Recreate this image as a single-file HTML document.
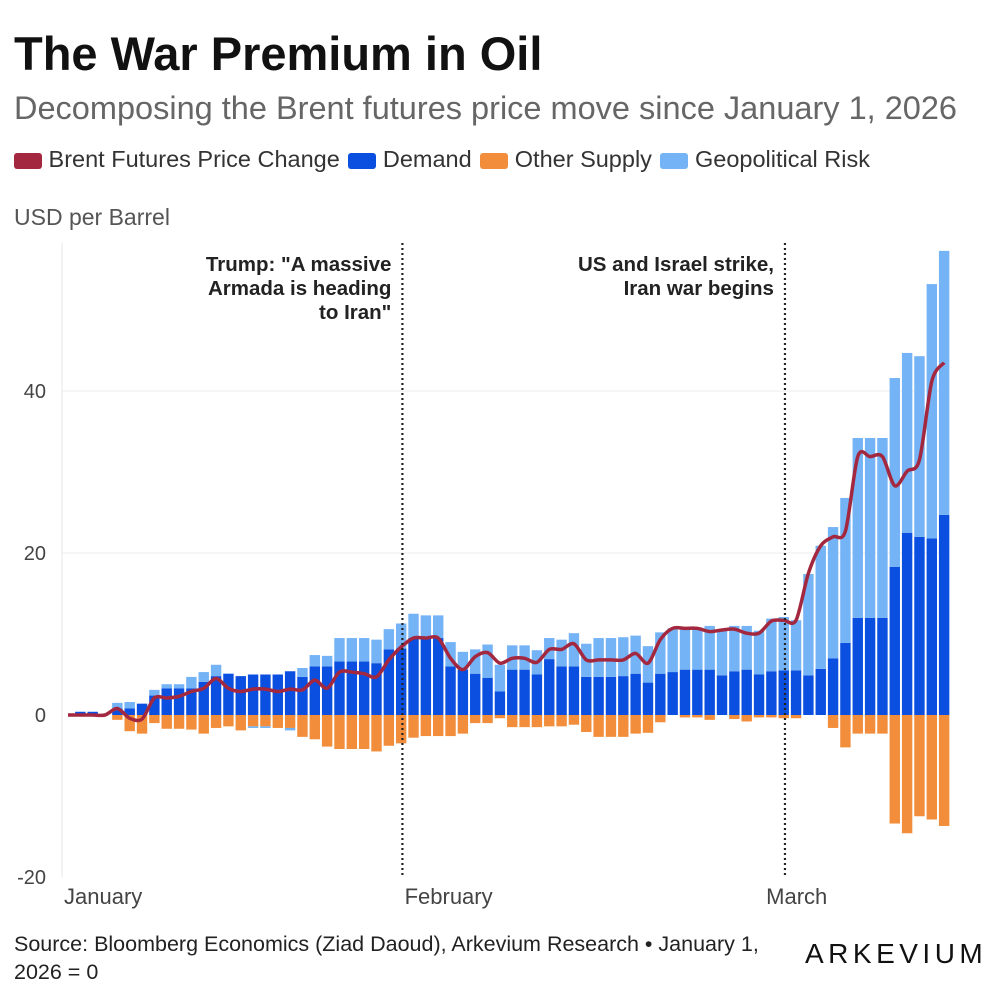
<!DOCTYPE html>
<html><head><meta charset="utf-8"><style>
body{margin:0;background:#fff;font-family:"Liberation Sans",sans-serif;}
#wrap{position:relative;width:1000px;height:1000px;overflow:hidden;}
.t{position:absolute;white-space:nowrap;}
</style></head><body>
<div id="wrap">
<div class="t" style="left:14px;top:26px;font-size:47px;font-weight:bold;color:#111;">The War Premium in Oil</div>
<div class="t" style="left:14px;top:90px;font-size:32.5px;color:#666;">Decomposing the Brent futures price move since January 1, 2026</div>
<div class="t" style="left:14px;top:146px;font-size:23.5px;color:#333;">
<span><span style="display:inline-block;width:28px;height:16px;background:#a3283f;border-radius:3px;vertical-align:-2px"></span> Brent Futures Price Change</span>
<span style="margin-left:2px"><span style="display:inline-block;width:28px;height:16px;background:#0a4fe0;border-radius:3px;vertical-align:-2px"></span> Demand</span>
<span style="margin-left:2px"><span style="display:inline-block;width:28px;height:16px;background:#f28e3b;border-radius:3px;vertical-align:-2px"></span> Other Supply</span>
<span style="margin-left:2px"><span style="display:inline-block;width:28px;height:16px;background:#74b3f5;border-radius:3px;vertical-align:-2px"></span> Geopolitical Risk</span>
</div>
<div class="t" style="left:14px;top:204px;font-size:23px;color:#555;">USD per Barrel</div>
<svg id="chart" width="1000" height="1000" style="position:absolute;left:0;top:0" xmlns="http://www.w3.org/2000/svg"></svg>
<div class="t" style="left:14px;top:930px;font-size:21.5px;color:#222;line-height:28px;">Source: Bloomberg Economics (Ziad Daoud), Arkevium Research • January 1,<br>2026 = 0</div>
<div class="t" style="left:805px;top:938px;font-size:28px;letter-spacing:4.5px;color:#111;">ARKEVIUM</div>
</div>
<script>
const demand=[0,0.4,0.4,0,0.8,0.8,1.4,2.4,3.3,3.3,3.3,4.1,4.8,5.1,4.8,5.0,5.0,5.0,5.4,4.7,6.0,6.0,6.6,6.6,6.6,6.4,8.1,8.2,9.5,9.5,9.5,6.0,5.6,5.1,4.6,2.9,5.6,5.6,5.0,6.9,6.0,6.0,4.7,4.7,4.7,4.8,5.1,4.0,5.1,5.3,5.6,5.6,5.6,4.9,5.4,5.6,5.0,5.4,5.5,5.5,4.9,5.7,7.0,8.9,12.0,12.0,12.0,18.3,22.5,22.0,21.8,24.7];
const supply=[0,0,0,0,-0.6,-2.0,-2.3,-1.0,-1.7,-1.7,-1.8,-2.3,-1.6,-1.4,-1.9,-1.4,-1.4,-1.6,-1.6,-2.7,-3.0,-3.9,-4.2,-4.2,-4.2,-4.5,-3.8,-3.5,-2.8,-2.6,-2.6,-2.6,-2.3,-1.0,-1.0,-0.4,-1.5,-1.5,-1.5,-1.4,-1.4,-1.2,-2.1,-2.7,-2.7,-2.7,-2.3,-2.2,-0.9,0,-0.3,-0.3,-0.6,0,-0.5,-0.8,-0.3,-0.3,-0.4,-0.4,0,0,-1.6,-4.0,-2.3,-2.3,-2.3,-13.4,-14.6,-12.5,-12.9,-13.7];
const geo=[0,0,0,0,0.7,0.8,0,0.7,0.5,0.5,1.4,1.2,1.4,0,0,-0.2,-0.2,0,-0.3,1.1,1.4,1.3,2.9,2.9,2.9,2.9,2.5,3.1,3.0,2.8,2.8,3.0,2.2,3.0,4.1,3.3,3.0,3.0,3.0,2.6,3.3,4.1,4.1,4.8,4.8,4.8,4.7,4.5,5.1,5.4,5.2,5.2,5.4,5.6,5.6,5.4,5.4,6.5,6.6,6.2,12.5,15.2,16.2,17.9,22.2,22.2,22.2,23.3,22.2,22.3,31.4,32.6];
const price=[0,0,0,0,0.8,-0.4,-0.5,2.1,2.1,2.3,2.9,3.3,4.5,3.3,2.9,3.2,3.2,2.9,3.2,3.1,4.3,3.3,5.3,5.3,5.1,4.7,6.8,8.4,9.5,9.5,9.5,7.0,5.6,7.2,7.7,6.4,7.0,7.0,6.5,8.1,8.1,8.8,6.8,6.8,6.8,6.8,7.6,6.4,9.3,10.7,10.7,10.7,10.3,10.5,10.6,10.1,10.1,11.6,11.7,11.7,17.5,20.9,22.0,22.7,31.9,31.9,31.9,28.3,30.1,31.5,41.2,43.5];
const yTicks=[-20,0,20,40];
const months=["January","February","March"];
const monthIdx=[0,27.6,56.9];
const events=[{i:27.1,lines:['Trump: "A massive','Armada is heading','to Iran"']},{i:58.1,lines:['US and Israel strike,','Iran war begins']}];

const svg=document.getElementById('chart');
const NS='http://www.w3.org/2000/svg';
const x=i=>68+i*12.34;
const y=v=>715-v*8.1;
const bw=10.4;
function mk(tag,attrs){const e=document.createElementNS(NS,tag);for(const k in attrs)e.setAttribute(k,attrs[k]);svg.appendChild(e);return e;}

let ax=mk('line',{x1:62,x2:62,y1:243,y2:877,stroke:'#e6e6e6','stroke-width':1});


yTicks.forEach(t=>{
  if(t>-20&&t!==0){const g=mk('line',{x1:62,x2:950,y1:y(t),y2:y(t),stroke:'#ececec','stroke-width':1});
  
  }
  const l=mk('text',{x:46,y:y(t)+7,'text-anchor':'end','font-size':20,fill:'#444','font-family':'Liberation Sans, sans-serif'});
  l.textContent=t;
  
  
});
for(let i=0;i<demand.length;i++){
  const cx=x(i);
  let pos=0,neg=0;
  function seg(v,color,name){
    if(v===0)return;
    let top,bot;
    if(v>0){bot=pos;top=pos+v;pos=top;}else{top=neg;bot=neg+v;neg=bot;}
    const r=mk('rect',{x:cx-bw/2,y:y(top),width:bw,height:Math.max(0.8,y(bot)-y(top)),fill:color});
    
    
  }
  seg(demand[i],'#0a4fe0','bar-demand');
  seg(supply[i],'#f28e3b','bar-supply');
  seg(geo[i],'#74b3f5','bar-geo');
}
const pts=price.map((v,i)=>[x(i),y(v)]);
let d='M'+pts[0][0]+','+pts[0][1];
for(let i=0;i<pts.length-1;i++){
  const p0=pts[Math.max(0,i-1)],p1=pts[i],p2=pts[i+1],p3=pts[Math.min(pts.length-1,i+2)];
  const t=0.15;
  d+=` C${p1[0]+(p2[0]-p0[0])*t},${p1[1]+(p2[1]-p0[1])*t} ${p2[0]-(p3[0]-p1[0])*t},${p2[1]-(p3[1]-p1[1])*t} ${p2[0]},${p2[1]}`;
}
const pl=mk('path',{d:d,fill:'none',stroke:'#a3283f','stroke-width':3.5,'stroke-linejoin':'round'});


events.forEach(ev=>{
  const ex=x(ev.i);
  const l=mk('line',{x1:ex,x2:ex,y1:243,y2:877,stroke:'#222','stroke-width':2.2,'stroke-dasharray':'2,3'});
  
  
  ev.lines.forEach((s,k)=>{
    const t=mk('text',{x:ex-11,y:271+k*24,'text-anchor':'end','font-size':20.5,'font-weight':'bold',fill:'#222','font-family':'Liberation Sans, sans-serif'});
    t.textContent=s;
    
    
  });
});
months.forEach((m,k)=>{
  const t=mk('text',{x:x(monthIdx[k])-4,y:904,'font-size':22,fill:'#444','font-family':'Liberation Sans, sans-serif'});
  t.textContent=m;
  
  
});
</script>
</body></html>
